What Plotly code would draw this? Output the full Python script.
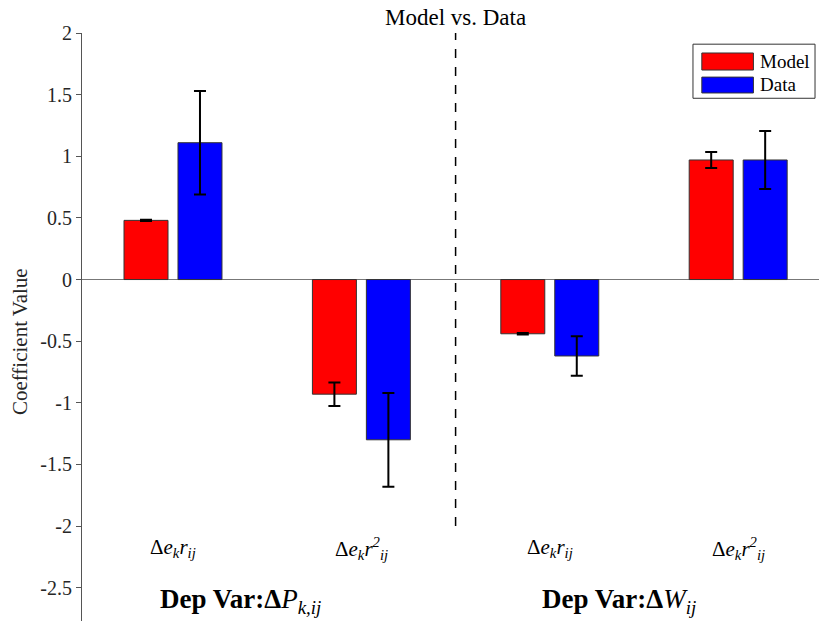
import plotly.graph_objects as go

# ---- data ----
positions = [1, 2, 3, 4]
cat_labels = [
    "Δ<i>e<sub>k</sub>r<sub>ij</sub></i>",
    "Δ<i>e<sub>k</sub>r<sup>2</sup><sub>ij</sub></i>",
    "Δ<i>e<sub>k</sub>r<sub>ij</sub></i>",
    "Δ<i>e<sub>k</sub>r<sup>2</sup><sub>ij</sub></i>",
]
series_names = ["Model", "Data"]
series_colors = ["#ff0000", "#0000ff"]
model_vals = [0.48, -0.93, -0.44, 0.97]
model_err = [0.005, 0.095, 0.006, 0.065]
data_vals = [1.11, -1.30, -0.62, 0.97]
data_err = [0.42, 0.38, 0.16, 0.235]
group_labels = ["<b>Dep Var:Δ</b><i>P<sub>k,ij</sub></i>", "<b>Dep Var:Δ</b><i>W<sub>ij</sub></i>"]
group_pos = [1.36, 3.37]
yticks = [2, 1.5, 1, 0.5, 0, -0.5, -1, -1.5, -2, -2.5]
ytick_text = ["2", "1.5", "1", "0.5", "0", "-0.5", "-1", "-1.5", "-2", "-2.5"]

FONT = "Liberation Serif"

fig = go.Figure()
for name, color, vals, errs in zip(series_names, series_colors,
                                   [model_vals, data_vals], [model_err, data_err]):
    fig.add_trace(go.Bar(
        x=positions, y=vals, name=name, showlegend=False,
        marker=dict(color=color, line=dict(color="#333333", width=1)),
        error_y=dict(type="data", array=errs, color="black", thickness=2, width=6),
    ))
# dashed separator
fig.add_trace(go.Scatter(
    x=[2.5, 2.5], y=[-2, 2], mode="lines",
    line=dict(color="black", width=1.5, dash="dash"),
    showlegend=False, hoverinfo="skip",
))

annotations = []
for p, lab in zip(positions, cat_labels):
    annotations.append(dict(x=p, y=-2.18, xref="x", yref="y", text=lab, showarrow=False,
                            font=dict(family=FONT, size=21, color="black")))
for p, lab in zip(group_pos, group_labels):
    annotations.append(dict(x=p, y=-2.61, xref="x", yref="y", text=lab, showarrow=False,
                            font=dict(family=FONT, size=27, color="black")))
annotations.append(dict(x=(20 - 82) / 737.0, xref="paper", y=0.476, yref="paper",
                        text="Coefficient Value",
                        textangle=-90, showarrow=False, xanchor="center", yanchor="middle",
                        font=dict(family=FONT, size=21, color="#262626")))
annotations.append(dict(x=2.5, xref="x", y=1.0, yref="paper", yshift=16, text="Model vs. Data",
                        showarrow=False, yanchor="middle",
                        font=dict(family=FONT, size=23, color="black")))

# ---- custom legend (wide patches like the reference) ----
shapes = [dict(type="rect", xref="paper", yref="paper", x0=0.829, x1=0.9946, y0=0.889, y1=0.981,
               line=dict(color="#333333", width=1), fillcolor="white", layer="above")]
leg_rows = [(0.966, 0.937, 0.952), (0.925, 0.898, 0.912)]
for (ya, yb, yc), name, color in zip(leg_rows, series_names, series_colors):
    shapes.append(dict(type="rect", xref="paper", yref="paper", x0=0.841, x1=0.911, y0=yb, y1=ya,
                       line=dict(color="#333333", width=1), fillcolor=color, layer="above"))
    annotations.append(dict(x=0.917, y=yc, xref="paper", yref="paper", text=name, showarrow=False,
                            xanchor="left", yanchor="middle",
                            font=dict(family=FONT, size=19, color="black")))

fig.update_layout(
    width=819, height=621,
    margin=dict(l=82, r=0, t=33, b=0),
    paper_bgcolor="white", plot_bgcolor="white",
    barmode="group", bargap=0.427, bargroupgap=0.185,
    font=dict(family=FONT, size=17, color="#262626"),
    showlegend=False,
    xaxis=dict(range=[0.517, 4.429], showticklabels=False, showgrid=False,
               zeroline=False, showline=False, ticks=""),
    yaxis=dict(range=[-2.77, 2], tickvals=yticks, ticktext=ytick_text,
               showgrid=False, zeroline=True, zerolinecolor="#777777", zerolinewidth=1,
               showline=True, linecolor="#555555", linewidth=1,
               ticks="outside", ticklen=5, tickcolor="#555555",
               tickfont=dict(family=FONT, size=20, color="#262626")),
    annotations=annotations,
    shapes=shapes,
)

fig.write_html("out.html")
